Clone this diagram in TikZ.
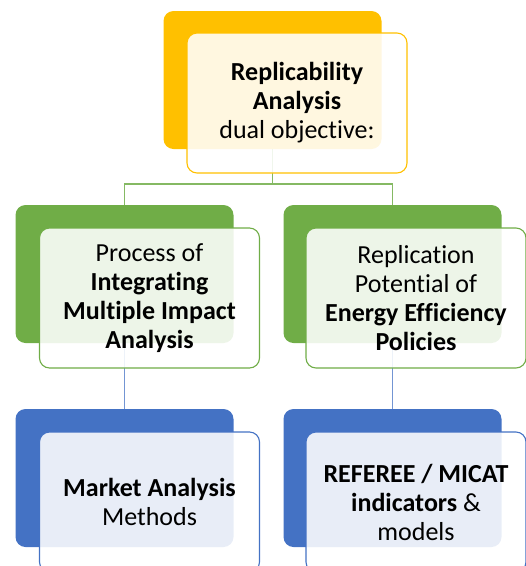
\documentclass[tikz,border=0pt]{standalone}
\usepackage{fontspec}
\setmainfont[Ligatures={NoCommon}]{Carlito}
\definecolor{gold}{RGB}{255,192,0}
\definecolor{leaf}{RGB}{112,173,71}
\definecolor{sea}{RGB}{68,114,196}
\begin{document}
\begin{tikzpicture}[x=1pt,y=-1pt,
  back/.style={rectangle,rounded corners=10pt,minimum width=218pt,minimum height=138pt,inner sep=0pt,fill=#1},
  front/.style={rectangle,rounded corners=10pt,minimum width=220pt,minimum height=140pt,inner sep=0pt,
    draw=#1,line width=1.1pt,fill=white,fill opacity=0.88,text opacity=1,
    align=center,font=\fontsize{26}{29}\selectfont},
  link/.style={line width=1.3pt,draw=#1}]
\useasboundingbox (0,0) rectangle (526,566);

% back plates
\node[back=gold] (td) at (272.5,80) {};
\node[back=leaf] (gld) at (124.5,274) {};
\node[back=leaf] (grd) at (392.5,274) {};
\node[back=sea] (bld) at (124.5,478) {};
\node[back=sea] (brd) at (392.5,478) {};

% connectors
\coordinate (bus) at (272.5,184);
\draw[link=leaf!85!white] (td.south) -- (bus) -| (gld.north);
\draw[link=leaf!85!white] (bus) -| (grd.north);
\draw[link=sea!75!white] (gld.south) -- (bld.north);
\draw[link=sea!75!white] (grd.south) -- (brd.north);

% front panels with text
\node[front=gold] (tf) at (297,103) {\textbf{Replicability}\\\textbf{Analysis}\\dual objective:};
\node[front=leaf] (glf) at (149.5,298) {Process of\\\textbf{Integrating}\\\textbf{Multiple Impact}\\\textbf{Analysis}};
\node[front=leaf] (grf) at (416,298) {Replication\\Potential of\\\textbf{Energy Efficiency}\\\textbf{Policies}};
\node[front=sea] (blf) at (149.5,502) {\textbf{Market Analysis}\\Methods};
\node[front=sea] (brf) at (416,502) {\textbf{REFEREE / MICAT}\\\textbf{indicators} \&\\models};
\end{tikzpicture}
\end{document}
